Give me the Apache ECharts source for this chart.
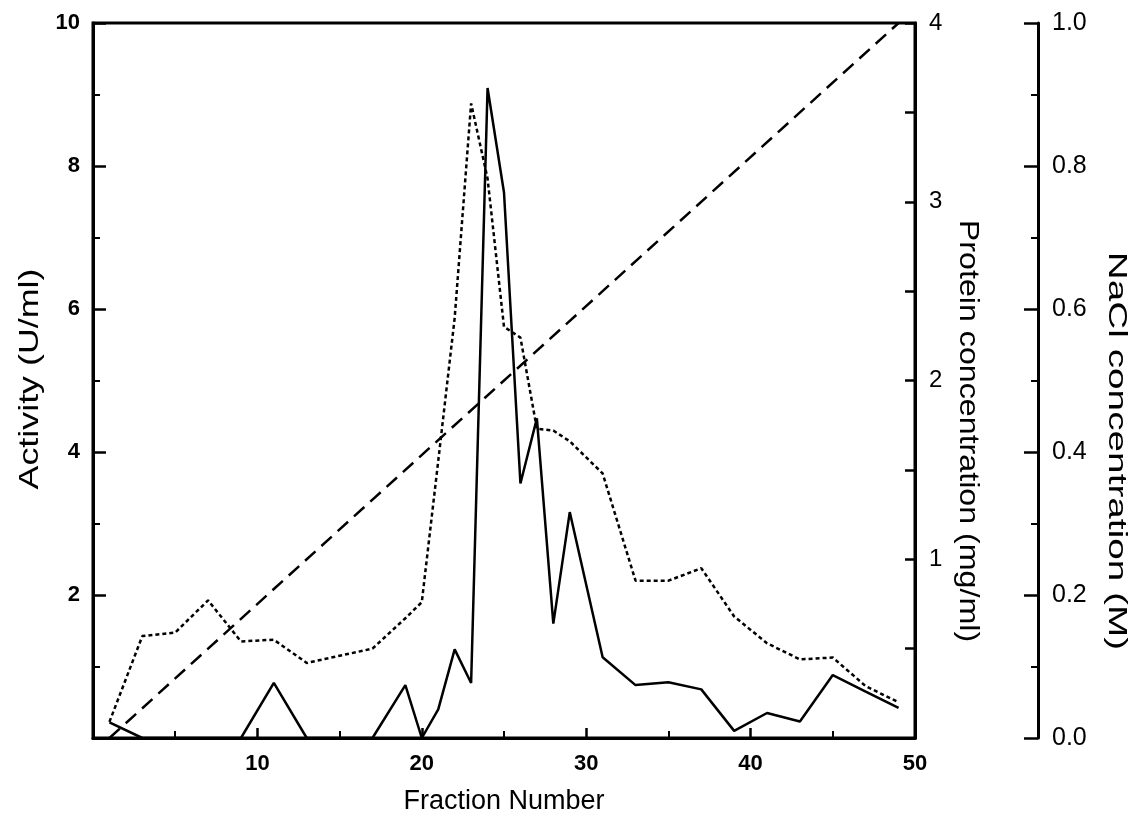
<!DOCTYPE html>
<html>
<head>
<meta charset="utf-8">
<script src="https://cdn.jsdelivr.net/npm/echarts@6/dist/echarts.min.js"></script>
<style>
  html, body { margin: 0; padding: 0; background: #fff; }
  #chart { width: 1133px; height: 824px; }
</style>
</head>
<body>
<div id="chart"></div>
<script>
// fraction numbers where activity and protein were measured
var fractions = [1, 3, 5, 7, 9, 11, 13, 15, 17, 19, 20, 21, 22, 23, 24, 25, 26, 27, 28, 29, 31, 33, 35, 37, 39, 41, 43, 45, 47, 49];
var activity = [0.22, 0, 0, 0, 0, 0.77, 0, 0, 0, 0.74, 0, 0.4, 1.24, 0.77, 9.09, 7.63, 3.56, 4.47, 1.6, 3.16, 1.13, 0.74, 0.78, 0.68, 0.1, 0.35, 0.23, 0.88, 0.65, 0.42];
var protein = [0.09, 0.57, 0.59, 0.77, 0.54, 0.55, 0.42, 0.46, 0.5, 0.67, 0.76, 1.55, 2.35, 3.55, 3.13, 2.3, 2.24, 1.73, 1.72, 1.66, 1.48, 0.88, 0.88, 0.95, 0.68, 0.53, 0.44, 0.45, 0.29, 0.2];
// NaCl gradient end points
var naclFractions = [1, 49];
var nacl = [0, 1.0];

function pairs(xs, ys) {
  return xs.map(function (x, i) { return [x, ys[i]]; });
}

var font = '"Liberation Sans", Arial, sans-serif';
var black = '#000';

// vertical axis titles, stretched a bit along their length like the scan
function vTitle(text, x, y, size, stretch, rot) {
  return {
    type: 'text',
    x: x,
    y: y,
    rotation: rot,
    scaleX: stretch,
    style: {
      text: text,
      fontFamily: font,
      fontSize: size,
      fill: black,
      align: 'center',
      verticalAlign: 'middle'
    }
  };
}

var chart = echarts.init(document.getElementById('chart'));
var option = {
  animation: false,
  backgroundColor: '#fff',
  grid: {
    left: 93,
    right: 218,
    top: 23,
    bottom: 86,
    show: true,
    borderColor: black,
    borderWidth: 3,
    backgroundColor: 'transparent'
  },
  xAxis: {
    type: 'value',
    min: 0,
    max: 50,
    interval: 10,
    name: 'Fraction Number',
    nameLocation: 'middle',
    nameGap: 50,
    nameTextStyle: { fontFamily: font, fontSize: 27, color: black },
    axisLine: { lineStyle: { color: black, width: 3 } },
    axisTick: { inside: true, length: 10, lineStyle: { color: black, width: 2.5 } },
    minorTick: { show: true, splitNumber: 2, length: 7, lineStyle: { color: black, width: 2 } },
    splitLine: { show: false },
    axisLabel: {
      margin: 15,
      fontFamily: font,
      fontSize: 22,
      fontWeight: 'bold',
      color: black,
      formatter: function (v) { return v === 0 ? '' : v; }
    }
  },
  yAxis: [
    {
      type: 'value',
      position: 'left',
      min: 0,
      max: 10,
      interval: 2,
      axisLine: { show: true, lineStyle: { color: black, width: 3 } },
      axisTick: { show: true, inside: true, length: 13, lineStyle: { color: black, width: 2.5 } },
      minorTick: { show: true, splitNumber: 2, length: 7, lineStyle: { color: black, width: 2 } },
      splitLine: { show: false },
      axisLabel: {
        margin: 13,
        fontFamily: font,
        fontSize: 22,
        fontWeight: 'bold',
        color: black,
        formatter: function (v) { return v === 0 ? '' : v; }
      }
    },
    {
      type: 'value',
      position: 'right',
      min: 0,
      max: 4,
      interval: 0.5,
      axisLine: { show: true, lineStyle: { color: black, width: 3 } },
      axisTick: { show: true, inside: true, length: 10, lineStyle: { color: black, width: 2.5 } },
      splitLine: { show: false },
      axisLabel: {
        margin: 14,
        fontFamily: font,
        fontSize: 24,
        color: black,
        formatter: function (v) { return (v > 0 && v % 1 === 0) ? v : ''; }
      }
    },
    {
      type: 'value',
      position: 'right',
      offset: 123,
      min: 0,
      max: 1,
      interval: 0.2,
      axisLine: { show: true, lineStyle: { color: black, width: 3 } },
      axisTick: { show: true, inside: true, length: 14, lineStyle: { color: black, width: 2.5 } },
      minorTick: { show: true, splitNumber: 2, length: 7, lineStyle: { color: black, width: 2 } },
      splitLine: { show: false },
      axisLabel: {
        margin: 14,
        fontFamily: font,
        fontSize: 25,
        color: black,
        formatter: function (v) { return v.toFixed(1); }
      }
    }
  ],
  graphic: [
    vTitle('Activity (U/ml)', 30, 379, 28, 1.28, Math.PI / 2),
    vTitle('Protein concentration (mg/ml)', 968, 431, 28, 1.15, -Math.PI / 2),
    vTitle('NaCl concentration (M)', 1116, 451, 25, 1.55, -Math.PI / 2)
  ],
  series: [
    {
      name: 'NaCl',
      type: 'line',
      yAxisIndex: 2,
      symbol: 'none',
      data: pairs(naclFractions, nacl),
      lineStyle: { color: black, width: 2.5, type: [14, 8] }
    },
    {
      name: 'Protein',
      type: 'line',
      yAxisIndex: 1,
      symbol: 'none',
      data: pairs(fractions, protein),
      lineStyle: { color: black, width: 2.5, type: [4, 3] }
    },
    {
      name: 'Activity',
      type: 'line',
      yAxisIndex: 0,
      symbol: 'none',
      data: pairs(fractions, activity),
      lineStyle: { color: black, width: 2.5, type: 'solid' }
    }
  ]
};
chart.setOption(option);
</script>
</body>
</html>
